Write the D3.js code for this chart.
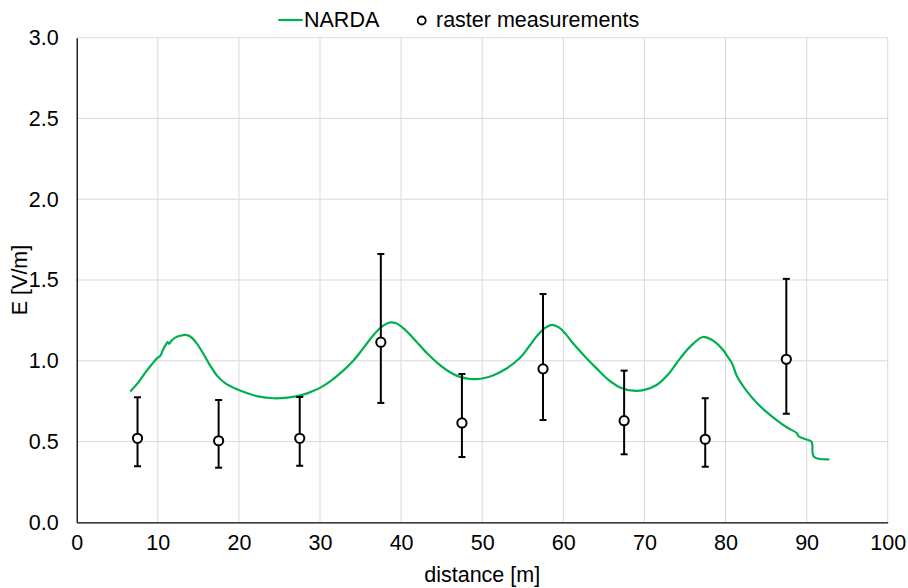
<!DOCTYPE html>
<html><head><meta charset="utf-8">
<script src="https://cdn.jsdelivr.net/npm/d3@7"></script>
<style>body{margin:0;background:#fff}svg{display:block;font-family:Arial,"Liberation Sans",sans-serif}</style>
</head><body><svg id="c" width="908" height="588"></svg>
<script>
const nardaX = [6.6,7.5,8.5,9.3,9.9,10.3,10.7,11.0,11.2,11.4,11.7,12.2,12.8,13.4,14.0,14.8,15.6,16.4,17.3,18.3,19.7,21.0,22.5,24.2,26.0,27.5,29.0,30.0,31.5,33.0,34.1,35.3,36.6,37.6,38.6,39.4,40.3,41.5,43.2,44.5,45.6,47.0,48.5,50.0,51.4,53.0,54.7,55.8,56.9,57.8,58.6,59.5,60.3,61.2,62.6,64.1,65.5,67.0,68.6,70.0,71.5,73.0,74.4,75.8,77.2,78.3,79.7,80.2,80.8,81.4,82.5,83.9,85.0,86.3,87.5,88.8,89.0,89.8,90.6,90.9,92.8];
const nardaY = [0.81,0.86,0.93,0.98,1.015,1.03,1.075,1.10,1.115,1.105,1.125,1.145,1.155,1.16,1.15,1.108,1.045,0.975,0.908,0.862,0.825,0.80,0.778,0.768,0.772,0.784,0.81,0.832,0.882,0.945,1.0,1.075,1.16,1.21,1.237,1.232,1.20,1.14,1.046,0.985,0.943,0.905,0.887,0.89,0.91,0.952,1.02,1.09,1.162,1.205,1.222,1.205,1.165,1.108,1.03,0.953,0.885,0.835,0.815,0.82,0.85,0.92,1.015,1.095,1.147,1.13,1.067,1.03,0.985,0.905,0.82,0.737,0.685,0.633,0.59,0.551,0.533,0.515,0.499,0.406,0.39];
const measX = [7.5,17.5,27.5,37.5,47.5,57.5,67.5,77.5,87.5];
const measY = [0.52,0.505,0.52,1.115,0.615,0.95,0.629,0.514,1.009];
const measLow = [0.347,0.338,0.35,0.739,0.404,0.633,0.421,0.344,0.672];
const measHigh = [0.774,0.757,0.776,1.661,0.918,1.413,0.939,0.768,1.507];
const xTicks = [0,10,20,30,40,50,60,70,80,90,100];
const yTicks = [0,0.5,1.0,1.5,2.0,2.5,3.0];

const svg = d3.select("#c");
const L=76.7, R=887.7, T=37.7, B=522.3;
const x = d3.scaleLinear().domain([0,100]).range([L,R]);
const y = d3.scaleLinear().domain([0,3]).range([B,T]);
const grid="#d9d9d9";
const FS=21.5;

svg.append("g").selectAll("line").data(xTicks.slice(1)).join("line")
  .attr("x1",d=>x(d)).attr("x2",d=>x(d)).attr("y1",T).attr("y2",B)
  .attr("stroke",grid).attr("stroke-width",1);
svg.append("g").selectAll("line").data(yTicks.slice(1)).join("line")
  .attr("x1",L).attr("x2",R).attr("y1",d=>y(d)).attr("y2",d=>y(d))
  .attr("stroke",grid).attr("stroke-width",1);

const xa = svg.append("g").attr("transform",`translate(0,${B})`)
  .call(d3.axisBottom(x).tickValues(xTicks).tickSize(0).tickPadding(12).tickFormat(d3.format("d")));
const ya = svg.append("g").attr("transform",`translate(${L},0)`)
  .call(d3.axisLeft(y).tickValues(yTicks).tickSize(0).tickPadding(18).tickFormat(d3.format(".1f")));
[xa,ya].forEach(a=>{a.select(".domain").attr("stroke","#000").attr("stroke-width",1.3);
  a.selectAll("text").attr("font-size",FS).attr("fill","#000").attr("font-family","Arial, 'Liberation Sans', sans-serif");});

const line = d3.line().x((d,i)=>x(nardaX[i])).y(d=>y(d)).curve(d3.curveCatmullRom.alpha(0.5));
svg.append("path").datum(nardaY).attr("d",line).attr("fill","none")
  .attr("stroke","#00b050").attr("stroke-width",2.2);

const eb = svg.append("g").selectAll("g").data(measX).join("g");
eb.append("line").attr("x1",d=>x(d)).attr("x2",d=>x(d))
  .attr("y1",(d,i)=>y(measLow[i])).attr("y2",(d,i)=>y(measHigh[i]))
  .attr("stroke","#000").attr("stroke-width",2);
eb.append("line").attr("x1",d=>x(d)-3.5).attr("x2",d=>x(d)+3.5)
  .attr("y1",(d,i)=>y(measLow[i])).attr("y2",(d,i)=>y(measLow[i]))
  .attr("stroke","#000").attr("stroke-width",2);
eb.append("line").attr("x1",d=>x(d)-3.5).attr("x2",d=>x(d)+3.5)
  .attr("y1",(d,i)=>y(measHigh[i])).attr("y2",(d,i)=>y(measHigh[i]))
  .attr("stroke","#000").attr("stroke-width",2);
eb.append("circle").attr("cx",d=>x(d)).attr("cy",(d,i)=>y(measY[i])).attr("r",4.6)
  .attr("fill","#fff").attr("stroke","#000").attr("stroke-width",2);

svg.append("text").attr("x",(L+R)/2).attr("y",582).attr("text-anchor","middle")
  .attr("font-size",FS).text("distance [m]");
svg.append("text").attr("transform",`translate(27,${(T+B)/2}) rotate(-90)`).attr("text-anchor","middle")
  .attr("font-size",FS).text("E [V/m]");

const lg = svg.append("g");
lg.append("line").attr("x1",278.3).attr("x2",302.7).attr("y1",20).attr("y2",20)
  .attr("stroke","#00b050").attr("stroke-width",2.2);
lg.append("text").attr("x",304).attr("y",27).attr("font-size",FS).text("NARDA");
lg.append("circle").attr("cx",421.7).attr("cy",20.5).attr("r",4).attr("fill","#fff")
  .attr("stroke","#000").attr("stroke-width",1.8);
lg.append("text").attr("x",436).attr("y",27).attr("font-size",FS).text("raster measurements");
</script></body></html>
